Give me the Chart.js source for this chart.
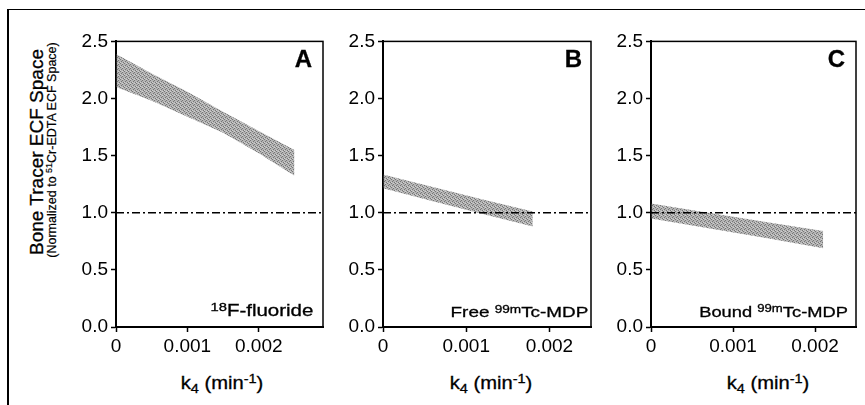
<!DOCTYPE html>
<html><head><meta charset="utf-8">
<script src="https://cdn.jsdelivr.net/npm/chart.js@4/dist/chart.umd.min.js"></script>
<style>
html,body{margin:0;padding:0;background:#fff;}
#wrap{position:relative;width:865px;height:405px;overflow:hidden;font-family:'Liberation Sans',Arial,Helvetica,sans-serif;color:#000;}
.frame{position:absolute;left:7px;top:9px;width:900px;height:500px;border-top:1.5px solid #000;border-left:2px solid #000;}
canvas{position:absolute;}
.t{position:absolute;white-space:nowrap;line-height:1;-webkit-text-stroke:0.3px #000;}
.sup{position:relative;top:-0.42em;font-size:0.72em;}
.sub{position:relative;top:0.3em;font-size:0.72em;}
</style></head><body>
<div id="wrap">
<div class="frame"></div>
<canvas id="cA" width="267" height="340" style="left:60px;top:27px;width:267px;height:340px"></canvas>
<canvas id="cB" width="268" height="340" style="left:327px;top:27px;width:268px;height:340px"></canvas>
<canvas id="cC" width="265" height="340" style="left:595px;top:27px;width:265px;height:340px"></canvas>

<div class="t" style="left:35.5px;top:152px;font-size:19px;transform:translate(-50%,-50%) rotate(-90deg);">Bone Tracer ECF Space</div>
<div class="t" style="left:52px;top:150px;font-size:12.5px;-webkit-text-stroke:0.2px #000;transform:translate(-50%,-50%) rotate(-90deg);">(Normalized to <span class="sup">51</span>Cr-EDTA ECF Space)</div>

<div class="t" style="right:553px;top:46.7px;font-size:24px;font-weight:bold;">A</div>
<div class="t" style="right:283px;top:46.7px;font-size:24px;font-weight:bold;">B</div>
<div class="t" style="right:20px;top:47px;font-size:24px;font-weight:bold;">C</div>

<div class="t" style="right:552px;top:302.5px;font-size:16px;transform:scaleX(1.28);transform-origin:right center;"><span class="sup">18</span>F-fluoride</div>
<div class="t" style="right:277px;top:304.3px;font-size:15px;transform:scaleX(1.26);transform-origin:right center;">Free <span class="sup">99m</span>Tc-MDP</div>
<div class="t" style="right:17px;top:304px;font-size:15px;transform:scaleX(1.22);transform-origin:right center;">Bound <span class="sup">99m</span>Tc-MDP</div>

<div class="t" style="left:222px;top:373.8px;font-size:18px;transform:translateX(-50%) scaleX(1.12);">k<span class="sub">4</span> (min<span class="sup">-1</span>)</div>
<div class="t" style="left:491px;top:373.8px;font-size:18px;transform:translateX(-50%) scaleX(1.12);">k<span class="sub">4</span> (min<span class="sup">-1</span>)</div>
<div class="t" style="left:768px;top:373.8px;font-size:18px;transform:translateX(-50%) scaleX(1.12);">k<span class="sub">4</span> (min<span class="sup">-1</span>)</div>
</div>

<script>
// ---- data ----
const yTicks = [0, 0.5, 1.0, 1.5, 2.0, 2.5];
const yTickLabels = ['0.0', '0.5', '1.0', '1.5', '2.0', '2.5'];
const xTicks = [0, 0.001, 0.002];
const xTickLabels = ['0', '0.001', '0.002'];
const yRange = [0, 2.5];
const refValue = 1.0;

// Panel A: 18F-fluoride
const xRangeA = [0, 0.0029];
const k4A = [0, 0.0005, 0.001, 0.0015, 0.002, 0.0025];
const upperA = [2.39, 2.22, 2.06, 1.885, 1.715, 1.55];
const lowerA = [2.10, 1.98, 1.84, 1.70, 1.52, 1.325];

// Panel B: Free 99mTc-MDP
const xRangeB = [0, 0.0025];
const k4B = [0, 0.0006, 0.0012, 0.0018];
const upperB = [1.335, 1.225, 1.115, 1.01];
const lowerB = [1.215, 1.10, 0.99, 0.88];

// Panel C: Bound 99mTc-MDP
const xRangeC = [0, 0.0025];
const k4C = [0, 0.0007, 0.0014, 0.0021];
const upperC = [1.08, 1.0, 0.92, 0.84];
const lowerC = [0.95, 0.865, 0.78, 0.69];

// ---- chart setup ----
Chart.defaults.font.family = "'Liberation Sans', Arial, Helvetica, sans-serif";
Chart.defaults.font.size = 19;
Chart.defaults.color = '#000';

function makePattern() {
  const c = document.createElement('canvas');
  c.width = 4; c.height = 4;
  const g = c.getContext('2d');
  g.fillStyle = '#b4b4b4'; g.fillRect(0, 0, 4, 4);
  g.fillStyle = '#767676';
  [[0,0],[2,1],[1,2],[3,3]].forEach(p => g.fillRect(p[0], p[1], 1, 1));
  g.fillStyle = '#d0d0d0';
  [[2,0],[0,3]].forEach(p => g.fillRect(p[0], p[1], 1, 1));
  return g.createPattern(c, 'repeat');
}
const bandFill = makePattern();

const boxPlugin = {
  id: 'box',
  afterDraw(chart) {
    const a = chart.chartArea, ctx = chart.ctx;
    ctx.save();
    ctx.strokeStyle = '#000';
    ctx.lineWidth = 1.5;
    ctx.strokeRect(a.left, a.top, a.right - a.left, a.bottom - a.top);
    ctx.restore();
  }
};

function pts(xs, ys) { return xs.map((x, i) => ({ x: x, y: ys[i] })); }

function makePanel(id, k4, lower, upper, xRange) {
  new Chart(document.getElementById(id), {
    type: 'line',
    data: {
      datasets: [
        { data: pts(xRange, [refValue, refValue]), borderColor: '#000', borderWidth: 1.5,
          borderDash: [8, 3, 2, 3], pointRadius: 0, fill: false },
        { data: pts(k4, lower), borderWidth: 0, borderColor: 'rgba(0,0,0,0)', pointRadius: 0, fill: false },
        { data: pts(k4, upper), borderWidth: 0, borderColor: 'rgba(0,0,0,0)', pointRadius: 0,
          fill: '-1', backgroundColor: bandFill }
      ]
    },
    options: {
      responsive: false,
      animation: false,
      layout: { padding: { left: 0, right: 4, top: 10, bottom: 0 } },
      elements: { line: { tension: 0 } },
      plugins: { legend: { display: false }, tooltip: { enabled: false } },
      scales: {
        x: {
          type: 'linear', min: xRange[0], max: xRange[1],
          afterBuildTicks: (s) => { s.ticks = xTicks.map(v => ({ value: v })); },
          afterFit: (s) => { s.height = 40; },
          ticks: { padding: 3, maxRotation: 0, callback: (v, i) => xTickLabels[i] },
          grid: { drawOnChartArea: false, drawTicks: true, tickLength: 5, color: '#000', tickWidth: 1.5 },
          border: { display: true, color: '#000', width: 2 }
        },
        y: {
          type: 'linear', min: yRange[0], max: yRange[1],
          afterBuildTicks: (s) => { s.ticks = yTicks.map(v => ({ value: v })); },
          afterFit: (s) => { s.width = 56; },
          ticks: { padding: 3, callback: (v, i) => yTickLabels[i] },
          grid: { drawOnChartArea: false, drawTicks: true, tickLength: 5, color: '#000', tickWidth: 1.5 },
          border: { display: true, color: '#000', width: 2 }
        }
      }
    },
    plugins: [boxPlugin]
  });
}

makePanel('cA', k4A, lowerA, upperA, xRangeA);
makePanel('cB', k4B, lowerB, upperB, xRangeB);
makePanel('cC', k4C, lowerC, upperC, xRangeC);
</script>
</body></html>
